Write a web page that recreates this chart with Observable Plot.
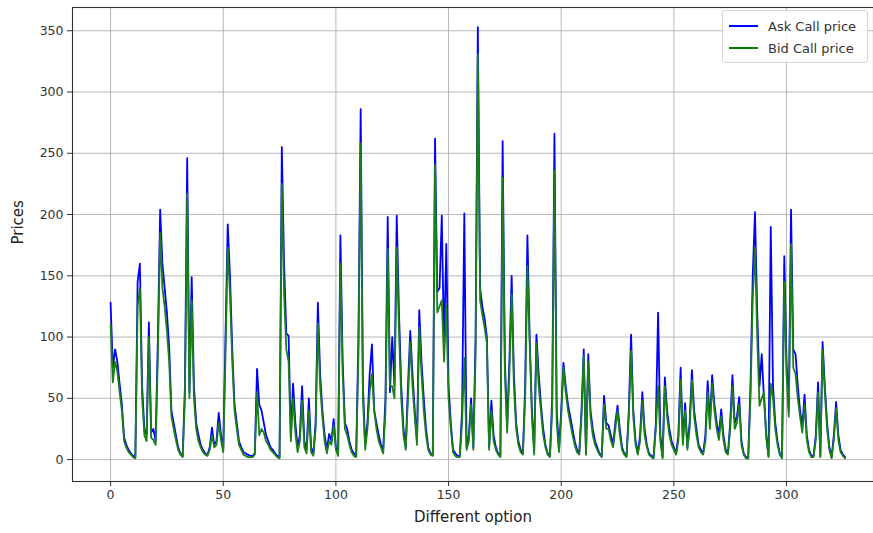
<!DOCTYPE html>
<html>
<head>
<meta charset="utf-8">
<script src="https://cdn.jsdelivr.net/npm/d3@7"></script>
<script src="https://cdn.jsdelivr.net/npm/@observablehq/plot@0.6"></script>
<style>
  html, body { margin: 0; padding: 0; background: #fff; }
  #wrap { position: relative; width: 873px; height: 533px; font-family: "DejaVu Sans", sans-serif; }
  #legend { position: absolute; left: 722px; top: 10px; width: 146px; height: 53px; border: 1px solid #d6d6d6; border-radius: 3px; background: rgba(255,255,255,0.85); box-sizing: border-box; }
  .row { position: absolute; left: 0; height: 16px; display: flex; align-items: center; font-size: 13px; color: #333; }
  .sw { display: inline-block; width: 29px; height: 0; border-top: 2px solid; margin-left: 6px; margin-right: 10px; }
</style>
</head>
<body>
<div id="wrap">
  <div id="chart"></div>
  <div id="legend">
    <div class="row" style="top:7px"><span class="sw" style="border-color:#0000ff"></span>Ask Call price</div>
    <div class="row" style="top:29px"><span class="sw" style="border-color:#008000"></span>Bid Call price</div>
  </div>
</div>
<script>
const askPrice = [
  128, 75, 90, 80, 62, 45, 18, 12, 8, 5,
  3, 2, 145, 160, 60, 25, 20, 112, 22, 25,
  15, 100, 204, 160, 140, 120, 92, 40, 30, 20,
  10, 5, 3, 60, 246, 55, 149, 60, 30, 20,
  12, 8, 5, 4, 10, 26, 12, 15, 38, 20,
  8, 100, 192, 150, 90, 45, 30, 15, 10, 6,
  5, 4, 3, 3, 5, 74, 45, 40, 30, 20,
  15, 10, 8, 5, 3, 2, 255, 160, 103, 101,
  20, 62, 30, 10, 20, 60, 15, 8, 50, 10,
  5, 30, 128, 70, 40, 20, 8, 21, 15, 33,
  10, 5, 183, 80, 30, 25, 15, 8, 5, 3,
  100, 286, 60, 12, 30, 70, 94, 40, 30, 20,
  12, 8, 50, 198, 55, 100, 60, 199, 120, 60,
  25, 10, 60, 105, 70, 40, 15, 122, 80, 50,
  25, 10, 5, 4, 262, 137, 140, 199, 90, 176,
  60, 30, 8, 5, 3, 3, 40, 201, 10, 20,
  50, 10, 100, 353, 140, 125, 115, 100, 10, 48,
  20, 10, 5, 3, 260, 80, 28, 80, 150, 70,
  30, 15, 8, 5, 60, 183, 100, 40, 8, 102,
  70, 45, 25, 12, 5, 3, 50, 266, 40, 8,
  40, 79, 60, 45, 35, 25, 15, 8, 5, 40,
  90, 5, 86, 40, 25, 15, 10, 5, 3, 52,
  30, 28, 20, 12, 30, 44, 25, 10, 5, 3,
  40, 102, 40, 15, 5, 20, 55, 25, 12, 5,
  3, 2, 30, 120, 20, 2, 67, 40, 25, 15,
  10, 5, 20, 75, 15, 46, 10, 30, 73, 40,
  25, 12, 8, 5, 20, 64, 30, 69, 45, 30,
  20, 41, 20, 8, 5, 30, 69, 30, 35, 51,
  15, 5, 2, 2, 60, 150, 202, 120, 60, 86,
  50, 20, 3, 190, 60, 30, 15, 5, 2, 166,
  80, 40, 204, 90, 86, 60, 40, 27, 53, 20,
  8, 3, 3, 20, 63, 3, 96, 60, 30, 10,
  2, 20, 47, 20, 8, 4, 2
];
const bidPrice = [
  110, 63, 80, 72, 55, 40, 15, 10, 6, 4,
  2, 1, 125, 140, 50, 20, 15, 100, 18, 16,
  12, 85, 185, 140, 125, 105, 80, 35, 25, 16,
  8, 4, 2, 50, 217, 50, 130, 50, 25, 15,
  10, 6, 4, 3, 8, 20, 10, 12, 30, 16,
  6, 85, 173, 135, 80, 40, 25, 12, 8, 4,
  3, 2, 2, 2, 4, 55, 20, 25, 22, 15,
  12, 8, 6, 4, 2, 1, 225, 135, 90, 80,
  15, 50, 22, 6, 15, 48, 10, 5, 40, 6,
  3, 25, 111, 60, 35, 15, 5, 15, 12, 28,
  8, 3, 160, 70, 25, 20, 12, 6, 3, 2,
  85, 258, 50, 8, 25, 55, 70, 40, 25, 15,
  10, 5, 40, 172, 60, 60, 50, 173, 105, 50,
  20, 8, 50, 96, 60, 35, 12, 108, 70, 40,
  20, 8, 4, 3, 241, 120, 125, 130, 80, 125,
  50, 25, 6, 3, 2, 2, 30, 83, 8, 15,
  45, 8, 85, 331, 130, 118, 108, 95, 8, 40,
  15, 8, 4, 2, 230, 70, 22, 70, 135, 60,
  25, 12, 6, 4, 50, 158, 95, 35, 4, 95,
  60, 40, 20, 10, 4, 2, 40, 236, 30, 6,
  35, 75, 55, 40, 30, 20, 12, 6, 4, 35,
  85, 4, 80, 35, 20, 12, 8, 4, 2, 45,
  25, 25, 16, 10, 25, 40, 20, 8, 4, 2,
  35, 89, 35, 12, 4, 15, 48, 20, 10, 4,
  2, 1, 25, 60, 15, 1, 60, 35, 20, 12,
  8, 4, 15, 65, 12, 40, 8, 25, 65, 35,
  20, 10, 6, 4, 15, 55, 25, 62, 40, 25,
  16, 35, 16, 6, 4, 25, 60, 25, 30, 45,
  12, 4, 1, 1, 50, 130, 173, 100, 44, 50,
  55, 18, 2, 62, 50, 25, 12, 4, 1, 145,
  70, 35, 176, 75, 70, 50, 35, 22, 45, 16,
  6, 2, 2, 16, 55, 2, 90, 55, 25, 8,
  1, 16, 42, 16, 6, 3, 1
];
const xTicks = [0, 50, 100, 150, 200, 250, 300];
const yTicks = [0, 50, 100, 150, 200, 250, 300, 350];
const xLabel = "Different option";
const yLabel = "Prices";

const rows = askPrice.map((a, i) => ({i, ask: a, bid: bidPrice[i]}));

const chart = Plot.plot({
  width: 873,
  height: 533,
  marginLeft: 72,
  marginRight: 0,
  marginTop: 7,
  marginBottom: 52,
  x: {domain: [-16.9, 338.6]},
  y: {domain: [-17.9, 369]},
  style: {fontFamily: "DejaVu Sans, sans-serif", fontSize: "12px", color: "#333", background: "#fff"},
  marks: [
    Plot.gridX(xTicks, {stroke: "#b0b0b0", strokeOpacity: 1, strokeWidth: 0.9}),
    Plot.gridY(yTicks, {stroke: "#b0b0b0", strokeOpacity: 1, strokeWidth: 0.9}),
    Plot.line(rows, {x: "i", y: "ask", stroke: "#0000ff", strokeWidth: 1.8}),
    Plot.line(rows, {x: "i", y: "bid", stroke: "#1a801a", strokeWidth: 1.8}),
    Plot.frame({stroke: "#333", strokeWidth: 1.1}),
    Plot.axisX(xTicks, {tickSize: 5, tickPadding: 4, fontSize: 12.5, label: null}),
    Plot.axisY(yTicks, {tickSize: 5, tickPadding: 4, fontSize: 12.5, label: null}),
    Plot.text([xLabel], {frameAnchor: "bottom", dy: 40, fontSize: 15, fill: "#222"}),
    Plot.text([yLabel], {frameAnchor: "left", dx: -54, rotate: -90, fontSize: 15, fill: "#222"})
  ]
});
document.getElementById("chart").appendChild(chart);
</script>
</body>
</html>
